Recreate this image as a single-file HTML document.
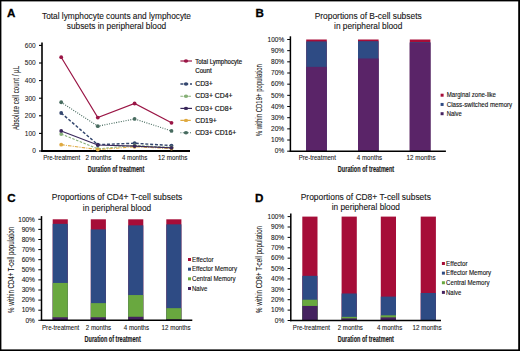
<!DOCTYPE html>
<html><head><meta charset="utf-8"><style>
html,body{margin:0;padding:0;background:#fff;}
body{width:520px;height:351px;overflow:hidden;position:relative;}
svg{position:absolute;left:0;top:0;font-family:"Liberation Sans", sans-serif;}
.frame{position:absolute;left:0;top:0;width:520px;height:351px;box-sizing:border-box;border-top:1.5px solid #000;border-left:1.5px solid #000;border-right:2px solid #000;border-bottom:1.5px solid #000;}
</style></head><body>
<svg width="520" height="351" viewBox="0 0 520 351">
<rect width="520" height="351" fill="#fff"/>
<text x="7.0" y="16.9" font-size="11.6" text-anchor="start" font-weight="bold" fill="#000" stroke="#000" stroke-width="0.3">A</text>
<text x="255.4" y="17.2" font-size="11.6" text-anchor="start" font-weight="bold" fill="#000" stroke="#000" stroke-width="0.3">B</text>
<text x="7.3" y="201.9" font-size="11.6" text-anchor="start" font-weight="bold" fill="#000" stroke="#000" stroke-width="0.3">C</text>
<text x="255.0" y="201.8" font-size="11.6" text-anchor="start" font-weight="bold" fill="#000" stroke="#000" stroke-width="0.3">D</text>
<text x="116.5" y="19.0" font-size="8.7" text-anchor="middle" font-weight="normal" fill="#141414" textLength="149" lengthAdjust="spacingAndGlyphs" stroke="#141414" stroke-width="0.1">Total lymphocyte counts and lymphocyte</text>
<text x="116.5" y="28.8" font-size="8.7" text-anchor="middle" font-weight="normal" fill="#141414" textLength="99.5" lengthAdjust="spacingAndGlyphs" stroke="#141414" stroke-width="0.1">subsets in peripheral blood</text>
<line x1="42.0" y1="42.400000000000006" x2="42.0" y2="151.8" stroke="#000" stroke-width="1.6" />
<line x1="41.2" y1="151.0" x2="190" y2="151.0" stroke="#000" stroke-width="1.8" />
<line x1="39" y1="151.0" x2="42.0" y2="151.0" stroke="#000" stroke-width="1.1" />
<text x="35.8" y="153.4" font-size="6.6" text-anchor="end" font-weight="normal" fill="#141414" stroke="#141414" stroke-width="0.05">0</text>
<line x1="39" y1="133.4" x2="42.0" y2="133.4" stroke="#000" stroke-width="1.1" />
<text x="35.8" y="135.8" font-size="6.6" text-anchor="end" font-weight="normal" fill="#141414" stroke="#141414" stroke-width="0.05">100</text>
<line x1="39" y1="115.80000000000001" x2="42.0" y2="115.80000000000001" stroke="#000" stroke-width="1.1" />
<text x="35.8" y="118.20000000000002" font-size="6.6" text-anchor="end" font-weight="normal" fill="#141414" stroke="#141414" stroke-width="0.05">200</text>
<line x1="39" y1="98.2" x2="42.0" y2="98.2" stroke="#000" stroke-width="1.1" />
<text x="35.8" y="100.60000000000001" font-size="6.6" text-anchor="end" font-weight="normal" fill="#141414" stroke="#141414" stroke-width="0.05">300</text>
<line x1="39" y1="80.60000000000001" x2="42.0" y2="80.60000000000001" stroke="#000" stroke-width="1.1" />
<text x="35.8" y="83.00000000000001" font-size="6.6" text-anchor="end" font-weight="normal" fill="#141414" stroke="#141414" stroke-width="0.05">400</text>
<line x1="39" y1="63.0" x2="42.0" y2="63.0" stroke="#000" stroke-width="1.1" />
<text x="35.8" y="65.4" font-size="6.6" text-anchor="end" font-weight="normal" fill="#141414" stroke="#141414" stroke-width="0.05">500</text>
<line x1="39" y1="45.400000000000006" x2="42.0" y2="45.400000000000006" stroke="#000" stroke-width="1.1" />
<text x="35.8" y="47.800000000000004" font-size="6.6" text-anchor="end" font-weight="normal" fill="#141414" stroke="#141414" stroke-width="0.05">600</text>
<text x="61.65" y="159.6" font-size="6.6" text-anchor="middle" font-weight="normal" fill="#141414" textLength="37.0" lengthAdjust="spacingAndGlyphs" stroke="#141414" stroke-width="0.08">Pre-treatment</text>
<text x="98.45" y="159.6" font-size="6.6" text-anchor="middle" font-weight="normal" fill="#141414" textLength="25.9" lengthAdjust="spacingAndGlyphs" stroke="#141414" stroke-width="0.08">2 months</text>
<text x="134.6" y="159.6" font-size="6.6" text-anchor="middle" font-weight="normal" fill="#141414" textLength="25.2" lengthAdjust="spacingAndGlyphs" stroke="#141414" stroke-width="0.08">4 months</text>
<text x="172.75" y="159.6" font-size="6.6" text-anchor="middle" font-weight="normal" fill="#141414" textLength="29.3" lengthAdjust="spacingAndGlyphs" stroke="#141414" stroke-width="0.08">12 months</text>
<text x="116.0" y="171.8" font-size="8.9" text-anchor="middle" font-weight="bold" fill="#1a1a1a" textLength="56.5" lengthAdjust="spacingAndGlyphs"  stroke="#1a1a1a" stroke-width="0.18">Duration of treatment</text>
<g transform="translate(19.2,98.0) rotate(-90)">
<text x="0" y="0" font-size="8.6" text-anchor="middle" font-weight="normal" fill="#141414" textLength="64.2" lengthAdjust="spacingAndGlyphs" stroke="#141414" stroke-width="0.06">Absolute cell count / µL</text>
</g>
<polyline points="61.2,102.25 97.8,126.18 134.6,118.97 171.5,130.94" fill="none" stroke="#476b5f" stroke-width="1.15" stroke-dasharray="1 1.4"/>
<circle cx="61.2" cy="102.25" r="1.9" fill="#476b5f"/>
<circle cx="97.8" cy="126.18" r="1.9" fill="#476b5f"/>
<circle cx="134.6" cy="118.97" r="1.9" fill="#476b5f"/>
<circle cx="171.5" cy="130.94" r="1.9" fill="#476b5f"/>
<polyline points="61.2,112.98 97.8,144.66 134.6,143.26 171.5,145.54" fill="none" stroke="#33466e" stroke-width="1.45" stroke-dasharray="3 1.8"/>
<circle cx="61.2" cy="112.98" r="1.9" fill="#33466e"/>
<circle cx="97.8" cy="144.66" r="1.9" fill="#33466e"/>
<circle cx="134.6" cy="143.26" r="1.9" fill="#33466e"/>
<circle cx="171.5" cy="145.54" r="1.9" fill="#33466e"/>
<polyline points="61.2,134.10 97.8,148.89 134.6,145.37 171.5,147.48" fill="none" stroke="#86b077" stroke-width="1.1" stroke-dasharray="2.5 1.5"/>
<circle cx="61.2" cy="134.10" r="1.9" fill="#86b077"/>
<circle cx="97.8" cy="148.89" r="1.9" fill="#86b077"/>
<circle cx="134.6" cy="145.37" r="1.9" fill="#86b077"/>
<circle cx="171.5" cy="147.48" r="1.9" fill="#86b077"/>
<polyline points="61.2,144.66 97.8,149.59 134.6,146.78 171.5,148.54" fill="none" stroke="#dfa93f" stroke-width="1.1" stroke-dasharray="3.5 1.2 1 1.2"/>
<circle cx="61.2" cy="144.66" r="1.9" fill="#dfa93f"/>
<circle cx="97.8" cy="149.59" r="1.9" fill="#dfa93f"/>
<circle cx="134.6" cy="146.78" r="1.9" fill="#dfa93f"/>
<circle cx="171.5" cy="148.54" r="1.9" fill="#dfa93f"/>
<polyline points="61.2,130.94 97.8,145.02 134.6,146.07 171.5,147.83" fill="none" stroke="#39275a" stroke-width="1.2"/>
<circle cx="61.2" cy="130.94" r="1.9" fill="#39275a"/>
<circle cx="97.8" cy="145.02" r="1.9" fill="#39275a"/>
<circle cx="134.6" cy="146.07" r="1.9" fill="#39275a"/>
<circle cx="171.5" cy="147.83" r="1.9" fill="#39275a"/>
<polyline points="61.2,57.19 97.8,117.56 134.6,103.48 171.5,122.84" fill="none" stroke="#9a1545" stroke-width="1.2"/>
<circle cx="61.2" cy="57.19" r="1.9" fill="#9a1545"/>
<circle cx="97.8" cy="117.56" r="1.9" fill="#9a1545"/>
<circle cx="134.6" cy="103.48" r="1.9" fill="#9a1545"/>
<circle cx="171.5" cy="122.84" r="1.9" fill="#9a1545"/>
<line x1="180.4" y1="61.0" x2="192" y2="61.0" stroke="#9a1545" stroke-width="1.2"/>
<ellipse cx="186.0" cy="61.0" rx="2.2" ry="1.7" fill="#9a1545"/>
<text x="195.2" y="63.9" font-size="6.4" text-anchor="start" font-weight="normal" fill="#141414" textLength="46.9" lengthAdjust="spacingAndGlyphs"  stroke="#141414" stroke-width="0.18">Total Lymphocyte</text>
<line x1="180.4" y1="84.0" x2="192" y2="84.0" stroke="#33466e" stroke-width="1.45" stroke-dasharray="3 1.8"/>
<ellipse cx="186.0" cy="84.0" rx="2.2" ry="1.7" fill="#33466e"/>
<text x="195.2" y="86.2" font-size="6.4" text-anchor="start" font-weight="normal" fill="#141414" textLength="17.7" lengthAdjust="spacingAndGlyphs"  stroke="#141414" stroke-width="0.18">CD3+</text>
<line x1="180.4" y1="96.2" x2="192" y2="96.2" stroke="#86b077" stroke-width="1.1" stroke-dasharray="2.5 1.5"/>
<ellipse cx="186.0" cy="96.2" rx="2.2" ry="1.7" fill="#86b077"/>
<text x="195.2" y="98.4" font-size="6.4" text-anchor="start" font-weight="normal" fill="#141414" textLength="37.4" lengthAdjust="spacingAndGlyphs"  stroke="#141414" stroke-width="0.18">CD3+ CD4+</text>
<line x1="180.4" y1="108.39999999999999" x2="192" y2="108.39999999999999" stroke="#39275a" stroke-width="1.2"/>
<ellipse cx="186.0" cy="108.39999999999999" rx="2.2" ry="1.7" fill="#39275a"/>
<text x="195.2" y="110.6" font-size="6.4" text-anchor="start" font-weight="normal" fill="#141414" textLength="37.4" lengthAdjust="spacingAndGlyphs"  stroke="#141414" stroke-width="0.18">CD3+ CD8+</text>
<line x1="180.4" y1="120.39999999999999" x2="192" y2="120.39999999999999" stroke="#dfa93f" stroke-width="1.1" stroke-dasharray="3.5 1.2 1 1.2"/>
<ellipse cx="186.0" cy="120.39999999999999" rx="2.2" ry="1.7" fill="#dfa93f"/>
<text x="195.2" y="122.6" font-size="6.4" text-anchor="start" font-weight="normal" fill="#141414" textLength="21.6" lengthAdjust="spacingAndGlyphs"  stroke="#141414" stroke-width="0.18">CD19+</text>
<line x1="180.4" y1="132.70000000000002" x2="192" y2="132.70000000000002" stroke="#476b5f" stroke-width="1.15" stroke-dasharray="1 1.4"/>
<ellipse cx="186.0" cy="132.70000000000002" rx="2.2" ry="1.7" fill="#476b5f"/>
<text x="195.2" y="134.9" font-size="6.4" text-anchor="start" font-weight="normal" fill="#141414" textLength="41.0" lengthAdjust="spacingAndGlyphs"  stroke="#141414" stroke-width="0.18">CD3+ CD16+</text>
<text x="195.2" y="73.0" font-size="6.4" text-anchor="start" font-weight="normal" fill="#141414" textLength="16.5" lengthAdjust="spacingAndGlyphs"  stroke="#141414" stroke-width="0.18">Count</text>
<text x="368.2" y="18.7" font-size="8.7" text-anchor="middle" font-weight="normal" fill="#141414" textLength="107.0" lengthAdjust="spacingAndGlyphs" stroke="#141414" stroke-width="0.1">Proportions of B-cell subsets</text>
<text x="368.2" y="28.8" font-size="8.7" text-anchor="middle" font-weight="normal" fill="#141414" textLength="68.3" lengthAdjust="spacingAndGlyphs" stroke="#141414" stroke-width="0.1">in peripheral blood</text>
<rect x="306.2" y="39.5" width="20.6" height="111.7" fill="#a60d38"/>
<rect x="306.2" y="41.4" width="20.6" height="109.8" fill="#2e4b84"/>
<rect x="306.2" y="66.87" width="20.6" height="84.33" fill="#5a2468"/>
<rect x="358.0" y="39.5" width="20.6" height="111.7" fill="#a60d38"/>
<rect x="358.0" y="41.18" width="20.6" height="110.02" fill="#2e4b84"/>
<rect x="358.0" y="58.49" width="20.6" height="92.71" fill="#5a2468"/>
<rect x="409.8" y="39.5" width="20.6" height="111.7" fill="#a60d38"/>
<rect x="409.8" y="42.18" width="20.6" height="109.02" fill="#2e4b84"/>
<rect x="409.8" y="42.85" width="20.6" height="108.35" fill="#5a2468"/>
<line x1="290.4" y1="36.3" x2="290.4" y2="151.89999999999998" stroke="#000" stroke-width="1.5" />
<line x1="289.7" y1="151.2" x2="445.9" y2="151.2" stroke="#000" stroke-width="1.5" />
<line x1="287.2" y1="151.2" x2="290.4" y2="151.2" stroke="#000" stroke-width="1.0" />
<text x="284.2" y="153.45" font-size="6.4" text-anchor="end" font-weight="normal" fill="#141414" textLength="9.4" lengthAdjust="spacingAndGlyphs" stroke="#141414" stroke-width="0.08">0%</text>
<line x1="287.2" y1="140.03" x2="290.4" y2="140.03" stroke="#000" stroke-width="1.0" />
<text x="284.2" y="142.28" font-size="6.4" text-anchor="end" font-weight="normal" fill="#141414" textLength="13.2" lengthAdjust="spacingAndGlyphs" stroke="#141414" stroke-width="0.08">10%</text>
<line x1="287.2" y1="128.85999999999999" x2="290.4" y2="128.85999999999999" stroke="#000" stroke-width="1.0" />
<text x="284.2" y="131.10999999999999" font-size="6.4" text-anchor="end" font-weight="normal" fill="#141414" textLength="13.2" lengthAdjust="spacingAndGlyphs" stroke="#141414" stroke-width="0.08">20%</text>
<line x1="287.2" y1="117.69" x2="290.4" y2="117.69" stroke="#000" stroke-width="1.0" />
<text x="284.2" y="119.94" font-size="6.4" text-anchor="end" font-weight="normal" fill="#141414" textLength="13.2" lengthAdjust="spacingAndGlyphs" stroke="#141414" stroke-width="0.08">30%</text>
<line x1="287.2" y1="106.51999999999998" x2="290.4" y2="106.51999999999998" stroke="#000" stroke-width="1.0" />
<text x="284.2" y="108.76999999999998" font-size="6.4" text-anchor="end" font-weight="normal" fill="#141414" textLength="13.2" lengthAdjust="spacingAndGlyphs" stroke="#141414" stroke-width="0.08">40%</text>
<line x1="287.2" y1="95.35" x2="290.4" y2="95.35" stroke="#000" stroke-width="1.0" />
<text x="284.2" y="97.6" font-size="6.4" text-anchor="end" font-weight="normal" fill="#141414" textLength="13.2" lengthAdjust="spacingAndGlyphs" stroke="#141414" stroke-width="0.08">50%</text>
<line x1="287.2" y1="84.17999999999999" x2="290.4" y2="84.17999999999999" stroke="#000" stroke-width="1.0" />
<text x="284.2" y="86.42999999999999" font-size="6.4" text-anchor="end" font-weight="normal" fill="#141414" textLength="13.2" lengthAdjust="spacingAndGlyphs" stroke="#141414" stroke-width="0.08">60%</text>
<line x1="287.2" y1="73.00999999999999" x2="290.4" y2="73.00999999999999" stroke="#000" stroke-width="1.0" />
<text x="284.2" y="75.25999999999999" font-size="6.4" text-anchor="end" font-weight="normal" fill="#141414" textLength="13.2" lengthAdjust="spacingAndGlyphs" stroke="#141414" stroke-width="0.08">70%</text>
<line x1="287.2" y1="61.83999999999999" x2="290.4" y2="61.83999999999999" stroke="#000" stroke-width="1.0" />
<text x="284.2" y="64.08999999999999" font-size="6.4" text-anchor="end" font-weight="normal" fill="#141414" textLength="13.2" lengthAdjust="spacingAndGlyphs" stroke="#141414" stroke-width="0.08">80%</text>
<line x1="287.2" y1="50.67" x2="290.4" y2="50.67" stroke="#000" stroke-width="1.0" />
<text x="284.2" y="52.92" font-size="6.4" text-anchor="end" font-weight="normal" fill="#141414" textLength="13.2" lengthAdjust="spacingAndGlyphs" stroke="#141414" stroke-width="0.08">90%</text>
<line x1="287.2" y1="39.5" x2="290.4" y2="39.5" stroke="#000" stroke-width="1.0" />
<text x="284.2" y="41.75" font-size="6.4" text-anchor="end" font-weight="normal" fill="#141414" textLength="16.6" lengthAdjust="spacingAndGlyphs" stroke="#141414" stroke-width="0.08">100%</text>
<text x="317.35" y="159.8" font-size="6.6" text-anchor="middle" font-weight="normal" fill="#141414" textLength="37.2" lengthAdjust="spacingAndGlyphs" stroke="#141414" stroke-width="0.08">Pre-treatment</text>
<text x="369.5" y="159.8" font-size="6.6" text-anchor="middle" font-weight="normal" fill="#141414" textLength="25.3" lengthAdjust="spacingAndGlyphs" stroke="#141414" stroke-width="0.08">4 months</text>
<text x="421.15" y="159.8" font-size="6.6" text-anchor="middle" font-weight="normal" fill="#141414" textLength="29.1" lengthAdjust="spacingAndGlyphs" stroke="#141414" stroke-width="0.08">12 months</text>
<text x="366.0" y="172.4" font-size="8.9" text-anchor="middle" font-weight="bold" fill="#1a1a1a" textLength="56.3" lengthAdjust="spacingAndGlyphs"  stroke="#1a1a1a" stroke-width="0.18">Duration of treatment</text>
<g transform="translate(262.0,100.2) rotate(-90)">
<text x="0" y="0" font-size="8.6" text-anchor="middle" font-weight="normal" fill="#141414" textLength="72.2" lengthAdjust="spacingAndGlyphs" stroke="#141414" stroke-width="0.06">% within CD19+ population</text>
</g>
<rect x="440.6" y="93.7" width="3" height="3" fill="#a60d38"/>
<text x="446.8" y="97.4" font-size="6.3" text-anchor="start" font-weight="normal" fill="#141414" textLength="49.2" lengthAdjust="spacingAndGlyphs" stroke="#141414" stroke-width="0.12">Marginal zone-like</text>
<rect x="440.6" y="102.95" width="3" height="3" fill="#2e4b84"/>
<text x="446.8" y="106.65" font-size="6.3" text-anchor="start" font-weight="normal" fill="#141414" textLength="65.4" lengthAdjust="spacingAndGlyphs" stroke="#141414" stroke-width="0.12">Class-switched memory</text>
<rect x="440.6" y="112.2" width="3" height="3" fill="#452260"/>
<text x="446.8" y="115.9" font-size="6.3" text-anchor="start" font-weight="normal" fill="#141414" textLength="15.0" lengthAdjust="spacingAndGlyphs" stroke="#141414" stroke-width="0.12">Naive</text>
<text x="117.0" y="200.4" font-size="8.7" text-anchor="middle" font-weight="normal" fill="#141414" textLength="130.5" lengthAdjust="spacingAndGlyphs" stroke="#141414" stroke-width="0.1">Proportions of CD4+ T-cell subsets</text>
<text x="117.0" y="210.5" font-size="8.7" text-anchor="middle" font-weight="normal" fill="#141414" textLength="68.3" lengthAdjust="spacingAndGlyphs" stroke="#141414" stroke-width="0.1">in peripheral blood</text>
<rect x="52.7" y="219.3" width="15.1" height="101.0" fill="#a60d38"/>
<rect x="52.7" y="223.85" width="15.1" height="96.45" fill="#2e4b84"/>
<rect x="52.7" y="282.93" width="15.1" height="37.37" fill="#69a83f"/>
<rect x="52.7" y="317.27" width="15.1" height="3.03" fill="#452260"/>
<rect x="90.8" y="219.3" width="15.1" height="101.0" fill="#a60d38"/>
<rect x="90.8" y="229.4" width="15.1" height="90.9" fill="#2e4b84"/>
<rect x="90.8" y="303.13" width="15.1" height="17.17" fill="#69a83f"/>
<rect x="90.8" y="317.27" width="15.1" height="3.03" fill="#452260"/>
<rect x="128.2" y="219.3" width="15.1" height="101.0" fill="#a60d38"/>
<rect x="128.2" y="225.36" width="15.1" height="94.94" fill="#2e4b84"/>
<rect x="128.2" y="295.05" width="15.1" height="25.25" fill="#69a83f"/>
<rect x="128.2" y="316.76" width="15.1" height="3.54" fill="#452260"/>
<rect x="166.3" y="219.3" width="15.1" height="101.0" fill="#a60d38"/>
<rect x="166.3" y="224.35" width="15.1" height="95.95" fill="#2e4b84"/>
<rect x="166.3" y="308.18" width="15.1" height="12.12" fill="#69a83f"/>
<rect x="166.3" y="319.29" width="15.1" height="1.01" fill="#452260"/>
<line x1="41.5" y1="216.10000000000002" x2="41.5" y2="321.0" stroke="#000" stroke-width="1.5" />
<line x1="40.8" y1="320.3" x2="192.3" y2="320.3" stroke="#000" stroke-width="1.5" />
<line x1="38.3" y1="320.3" x2="41.5" y2="320.3" stroke="#000" stroke-width="1.0" />
<text x="34.9" y="322.55" font-size="6.4" text-anchor="end" font-weight="normal" fill="#141414" textLength="9.4" lengthAdjust="spacingAndGlyphs" stroke="#141414" stroke-width="0.08">0%</text>
<line x1="38.3" y1="310.2" x2="41.5" y2="310.2" stroke="#000" stroke-width="1.0" />
<text x="34.9" y="312.45" font-size="6.4" text-anchor="end" font-weight="normal" fill="#141414" textLength="13.2" lengthAdjust="spacingAndGlyphs" stroke="#141414" stroke-width="0.08">10%</text>
<line x1="38.3" y1="300.1" x2="41.5" y2="300.1" stroke="#000" stroke-width="1.0" />
<text x="34.9" y="302.35" font-size="6.4" text-anchor="end" font-weight="normal" fill="#141414" textLength="13.2" lengthAdjust="spacingAndGlyphs" stroke="#141414" stroke-width="0.08">20%</text>
<line x1="38.3" y1="290.0" x2="41.5" y2="290.0" stroke="#000" stroke-width="1.0" />
<text x="34.9" y="292.25" font-size="6.4" text-anchor="end" font-weight="normal" fill="#141414" textLength="13.2" lengthAdjust="spacingAndGlyphs" stroke="#141414" stroke-width="0.08">30%</text>
<line x1="38.3" y1="279.90000000000003" x2="41.5" y2="279.90000000000003" stroke="#000" stroke-width="1.0" />
<text x="34.9" y="282.15000000000003" font-size="6.4" text-anchor="end" font-weight="normal" fill="#141414" textLength="13.2" lengthAdjust="spacingAndGlyphs" stroke="#141414" stroke-width="0.08">40%</text>
<line x1="38.3" y1="269.8" x2="41.5" y2="269.8" stroke="#000" stroke-width="1.0" />
<text x="34.9" y="272.05" font-size="6.4" text-anchor="end" font-weight="normal" fill="#141414" textLength="13.2" lengthAdjust="spacingAndGlyphs" stroke="#141414" stroke-width="0.08">50%</text>
<line x1="38.3" y1="259.7" x2="41.5" y2="259.7" stroke="#000" stroke-width="1.0" />
<text x="34.9" y="261.95" font-size="6.4" text-anchor="end" font-weight="normal" fill="#141414" textLength="13.2" lengthAdjust="spacingAndGlyphs" stroke="#141414" stroke-width="0.08">60%</text>
<line x1="38.3" y1="249.60000000000002" x2="41.5" y2="249.60000000000002" stroke="#000" stroke-width="1.0" />
<text x="34.9" y="251.85000000000002" font-size="6.4" text-anchor="end" font-weight="normal" fill="#141414" textLength="13.2" lengthAdjust="spacingAndGlyphs" stroke="#141414" stroke-width="0.08">70%</text>
<line x1="38.3" y1="239.5" x2="41.5" y2="239.5" stroke="#000" stroke-width="1.0" />
<text x="34.9" y="241.75" font-size="6.4" text-anchor="end" font-weight="normal" fill="#141414" textLength="13.2" lengthAdjust="spacingAndGlyphs" stroke="#141414" stroke-width="0.08">80%</text>
<line x1="38.3" y1="229.4" x2="41.5" y2="229.4" stroke="#000" stroke-width="1.0" />
<text x="34.9" y="231.65" font-size="6.4" text-anchor="end" font-weight="normal" fill="#141414" textLength="13.2" lengthAdjust="spacingAndGlyphs" stroke="#141414" stroke-width="0.08">90%</text>
<line x1="38.3" y1="219.3" x2="41.5" y2="219.3" stroke="#000" stroke-width="1.0" />
<text x="34.9" y="221.55" font-size="6.4" text-anchor="end" font-weight="normal" fill="#141414" textLength="16.6" lengthAdjust="spacingAndGlyphs" stroke="#141414" stroke-width="0.08">100%</text>
<text x="60.65" y="329.5" font-size="6.6" text-anchor="middle" font-weight="normal" fill="#141414" textLength="37.2" lengthAdjust="spacingAndGlyphs" stroke="#141414" stroke-width="0.08">Pre-treatment</text>
<text x="98.5" y="329.5" font-size="6.6" text-anchor="middle" font-weight="normal" fill="#141414" textLength="25.3" lengthAdjust="spacingAndGlyphs" stroke="#141414" stroke-width="0.08">2 months</text>
<text x="136.45" y="329.5" font-size="6.6" text-anchor="middle" font-weight="normal" fill="#141414" textLength="25.3" lengthAdjust="spacingAndGlyphs" stroke="#141414" stroke-width="0.08">4 months</text>
<text x="176.1" y="329.5" font-size="6.6" text-anchor="middle" font-weight="normal" fill="#141414" textLength="29.1" lengthAdjust="spacingAndGlyphs" stroke="#141414" stroke-width="0.08">12 months</text>
<text x="112.7" y="341.8" font-size="8.9" text-anchor="middle" font-weight="bold" fill="#1a1a1a" textLength="56.3" lengthAdjust="spacingAndGlyphs"  stroke="#1a1a1a" stroke-width="0.18">Duration of treatment</text>
<g transform="translate(13.7,269.9) rotate(-90)">
<text x="0" y="0" font-size="8.6" text-anchor="middle" font-weight="normal" fill="#141414" textLength="86.0" lengthAdjust="spacingAndGlyphs" stroke="#141414" stroke-width="0.06">% within CD4+ T-cell population</text>
</g>
<rect x="188.0" y="258.0" width="3" height="3" fill="#a60d38"/>
<text x="192.0" y="261.7" font-size="6.3" text-anchor="start" font-weight="normal" fill="#141414" textLength="21.5" lengthAdjust="spacingAndGlyphs" stroke="#141414" stroke-width="0.12">Effector</text>
<rect x="188.0" y="267.67" width="3" height="3" fill="#2e4b84"/>
<text x="192.0" y="271.37" font-size="6.3" text-anchor="start" font-weight="normal" fill="#141414" textLength="45.0" lengthAdjust="spacingAndGlyphs" stroke="#141414" stroke-width="0.12">Effector Memory</text>
<rect x="188.0" y="277.34" width="3" height="3" fill="#69a83f"/>
<text x="192.0" y="281.03999999999996" font-size="6.3" text-anchor="start" font-weight="normal" fill="#141414" textLength="43.6" lengthAdjust="spacingAndGlyphs" stroke="#141414" stroke-width="0.12">Central Memory</text>
<rect x="188.0" y="287.01" width="3" height="3" fill="#452260"/>
<text x="192.0" y="290.71" font-size="6.3" text-anchor="start" font-weight="normal" fill="#141414" textLength="15.4" lengthAdjust="spacingAndGlyphs" stroke="#141414" stroke-width="0.12">Naive</text>
<text x="365.8" y="200.0" font-size="8.7" text-anchor="middle" font-weight="normal" fill="#141414" textLength="130.1" lengthAdjust="spacingAndGlyphs" stroke="#141414" stroke-width="0.1">Proportions of CD8+ T-cell subsets</text>
<text x="365.8" y="210.0" font-size="8.7" text-anchor="middle" font-weight="normal" fill="#141414" textLength="68.3" lengthAdjust="spacingAndGlyphs" stroke="#141414" stroke-width="0.1">in peripheral blood</text>
<rect x="302.3" y="216.6" width="15.2" height="103.9" fill="#a60d38"/>
<rect x="302.3" y="275.82" width="15.2" height="44.68" fill="#2e4b84"/>
<rect x="302.3" y="299.72" width="15.2" height="20.78" fill="#69a83f"/>
<rect x="302.3" y="305.95" width="15.2" height="14.55" fill="#452260"/>
<rect x="341.6" y="216.6" width="15.2" height="103.9" fill="#a60d38"/>
<rect x="341.6" y="293.49" width="15.2" height="27.01" fill="#2e4b84"/>
<rect x="341.6" y="316.86" width="15.2" height="3.64" fill="#69a83f"/>
<rect x="341.6" y="318.42" width="15.2" height="2.08" fill="#452260"/>
<rect x="380.8" y="216.6" width="15.2" height="103.9" fill="#a60d38"/>
<rect x="380.8" y="296.6" width="15.2" height="23.9" fill="#2e4b84"/>
<rect x="380.8" y="315.31" width="15.2" height="5.19" fill="#69a83f"/>
<rect x="380.8" y="317.38" width="15.2" height="3.12" fill="#452260"/>
<rect x="420.7" y="216.6" width="15.2" height="103.9" fill="#a60d38"/>
<rect x="420.7" y="292.97" width="15.2" height="27.53" fill="#2e4b84"/>
<line x1="290.8" y1="213.4" x2="290.8" y2="321.2" stroke="#000" stroke-width="1.5" />
<line x1="290.1" y1="320.5" x2="441.0" y2="320.5" stroke="#000" stroke-width="1.5" />
<line x1="287.6" y1="320.5" x2="290.8" y2="320.5" stroke="#000" stroke-width="1.0" />
<text x="284.2" y="322.75" font-size="6.4" text-anchor="end" font-weight="normal" fill="#141414" textLength="9.4" lengthAdjust="spacingAndGlyphs" stroke="#141414" stroke-width="0.08">0%</text>
<line x1="287.6" y1="310.11" x2="290.8" y2="310.11" stroke="#000" stroke-width="1.0" />
<text x="284.2" y="312.36" font-size="6.4" text-anchor="end" font-weight="normal" fill="#141414" textLength="13.2" lengthAdjust="spacingAndGlyphs" stroke="#141414" stroke-width="0.08">10%</text>
<line x1="287.6" y1="299.72" x2="290.8" y2="299.72" stroke="#000" stroke-width="1.0" />
<text x="284.2" y="301.97" font-size="6.4" text-anchor="end" font-weight="normal" fill="#141414" textLength="13.2" lengthAdjust="spacingAndGlyphs" stroke="#141414" stroke-width="0.08">20%</text>
<line x1="287.6" y1="289.33" x2="290.8" y2="289.33" stroke="#000" stroke-width="1.0" />
<text x="284.2" y="291.58" font-size="6.4" text-anchor="end" font-weight="normal" fill="#141414" textLength="13.2" lengthAdjust="spacingAndGlyphs" stroke="#141414" stroke-width="0.08">30%</text>
<line x1="287.6" y1="278.94" x2="290.8" y2="278.94" stroke="#000" stroke-width="1.0" />
<text x="284.2" y="281.19" font-size="6.4" text-anchor="end" font-weight="normal" fill="#141414" textLength="13.2" lengthAdjust="spacingAndGlyphs" stroke="#141414" stroke-width="0.08">40%</text>
<line x1="287.6" y1="268.55" x2="290.8" y2="268.55" stroke="#000" stroke-width="1.0" />
<text x="284.2" y="270.8" font-size="6.4" text-anchor="end" font-weight="normal" fill="#141414" textLength="13.2" lengthAdjust="spacingAndGlyphs" stroke="#141414" stroke-width="0.08">50%</text>
<line x1="287.6" y1="258.15999999999997" x2="290.8" y2="258.15999999999997" stroke="#000" stroke-width="1.0" />
<text x="284.2" y="260.40999999999997" font-size="6.4" text-anchor="end" font-weight="normal" fill="#141414" textLength="13.2" lengthAdjust="spacingAndGlyphs" stroke="#141414" stroke-width="0.08">60%</text>
<line x1="287.6" y1="247.76999999999998" x2="290.8" y2="247.76999999999998" stroke="#000" stroke-width="1.0" />
<text x="284.2" y="250.01999999999998" font-size="6.4" text-anchor="end" font-weight="normal" fill="#141414" textLength="13.2" lengthAdjust="spacingAndGlyphs" stroke="#141414" stroke-width="0.08">70%</text>
<line x1="287.6" y1="237.38" x2="290.8" y2="237.38" stroke="#000" stroke-width="1.0" />
<text x="284.2" y="239.63" font-size="6.4" text-anchor="end" font-weight="normal" fill="#141414" textLength="13.2" lengthAdjust="spacingAndGlyphs" stroke="#141414" stroke-width="0.08">80%</text>
<line x1="287.6" y1="226.99" x2="290.8" y2="226.99" stroke="#000" stroke-width="1.0" />
<text x="284.2" y="229.24" font-size="6.4" text-anchor="end" font-weight="normal" fill="#141414" textLength="13.2" lengthAdjust="spacingAndGlyphs" stroke="#141414" stroke-width="0.08">90%</text>
<line x1="287.6" y1="216.6" x2="290.8" y2="216.6" stroke="#000" stroke-width="1.0" />
<text x="284.2" y="218.85" font-size="6.4" text-anchor="end" font-weight="normal" fill="#141414" textLength="16.6" lengthAdjust="spacingAndGlyphs" stroke="#141414" stroke-width="0.08">100%</text>
<text x="311.45" y="329.5" font-size="6.6" text-anchor="middle" font-weight="normal" fill="#141414" textLength="37.2" lengthAdjust="spacingAndGlyphs" stroke="#141414" stroke-width="0.08">Pre-treatment</text>
<text x="350.3" y="329.5" font-size="6.6" text-anchor="middle" font-weight="normal" fill="#141414" textLength="25.3" lengthAdjust="spacingAndGlyphs" stroke="#141414" stroke-width="0.08">2 months</text>
<text x="389.6" y="329.5" font-size="6.6" text-anchor="middle" font-weight="normal" fill="#141414" textLength="25.3" lengthAdjust="spacingAndGlyphs" stroke="#141414" stroke-width="0.08">4 months</text>
<text x="427.15" y="329.5" font-size="6.6" text-anchor="middle" font-weight="normal" fill="#141414" textLength="29.1" lengthAdjust="spacingAndGlyphs" stroke="#141414" stroke-width="0.08">12 months</text>
<text x="365.8" y="341.8" font-size="8.9" text-anchor="middle" font-weight="bold" fill="#1a1a1a" textLength="56.3" lengthAdjust="spacingAndGlyphs"  stroke="#1a1a1a" stroke-width="0.18">Duration of treatment</text>
<g transform="translate(261.6,269.5) rotate(-90)">
<text x="0" y="0" font-size="8.6" text-anchor="middle" font-weight="normal" fill="#141414" textLength="87.0" lengthAdjust="spacingAndGlyphs" stroke="#141414" stroke-width="0.06">% within CD8+ T-cell population</text>
</g>
<rect x="441.9" y="262.0" width="3" height="3" fill="#a60d38"/>
<text x="446.09999999999997" y="265.7" font-size="6.3" text-anchor="start" font-weight="normal" fill="#141414" textLength="21.5" lengthAdjust="spacingAndGlyphs" stroke="#141414" stroke-width="0.12">Effector</text>
<rect x="441.9" y="271.63" width="3" height="3" fill="#2e4b84"/>
<text x="446.09999999999997" y="275.33" font-size="6.3" text-anchor="start" font-weight="normal" fill="#141414" textLength="45.1" lengthAdjust="spacingAndGlyphs" stroke="#141414" stroke-width="0.12">Effector Memory</text>
<rect x="441.9" y="281.26" width="3" height="3" fill="#69a83f"/>
<text x="446.09999999999997" y="284.96" font-size="6.3" text-anchor="start" font-weight="normal" fill="#141414" textLength="43.5" lengthAdjust="spacingAndGlyphs" stroke="#141414" stroke-width="0.12">Central Memory</text>
<rect x="441.9" y="290.89" width="3" height="3" fill="#452260"/>
<text x="446.09999999999997" y="294.59" font-size="6.3" text-anchor="start" font-weight="normal" fill="#141414" textLength="15.1" lengthAdjust="spacingAndGlyphs" stroke="#141414" stroke-width="0.12">Naive</text>
<rect x="0" y="0" width="520" height="1.4" fill="#000"/>
<rect x="0" y="0" width="1.4" height="351" fill="#000"/>
<rect x="518.2" y="0" width="1.8" height="351" fill="#000"/>
<rect x="0" y="349.4" width="520" height="1.6" fill="#000"/>
</svg>
</body></html>
